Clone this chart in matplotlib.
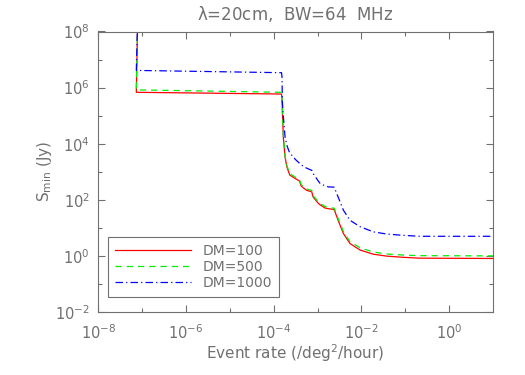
import matplotlib
matplotlib.use("Agg")
import matplotlib.pyplot as plt

# event rate (/deg^2/hour), shared by all three curves
rate = [8.1e-8, 7.4e-8, 1.51e-4, 1.55e-4, 1.58e-4, 1.66e-4, 1.82e-4, 2.0e-4,
        2.19e-4, 2.34e-4, 2.82e-4, 3.09e-4, 3.89e-4, 4.17e-4, 4.37e-4, 5.62e-4,
        7.41e-4, 7.94e-4, 1.05e-3, 1.15e-3, 1.48e-3, 1.78e-3, 2.40e-3, 2.95e-3,
        3.89e-3, 5.50e-3, 9.33e-3, 1.86e-2, 3.80e-2, 9.12e-2, 0.214, 10.0]

# S_min (Jy) for each DM
s_dm100 = [1e9, 6.8e5, 5.9e5, 4.0e5, 1.55e5, 1.74e4, 3.4e3, 1.48e3,
           1.0e3, 760, 630, 575, 468, 331, 295, 219,
           191, 126, 74, 66, 51, 48, 45, 18.6,
           6.3, 2.75, 1.62, 1.15, 0.98, 0.89, 0.83, 0.81]
s_dm500 = [1e9, 8.3e5, 6.8e5, 4.5e5, 1.66e5, 1.9e4, 3.7e3, 1.66e3,
           1.12e3, 850, 710, 645, 525, 372, 331, 245,
           214, 141, 83, 74, 57.5, 53.7, 50, 21.4,
           7.4, 3.24, 1.95, 1.38, 1.17, 1.07, 1.02, 1.0]
s_dm1000 = [1e9, 4.1e6, 3.4e6, 2.5e6, 3.2e5, 1.0e5, 1.74e4, 8.9e3,
            5.9e3, 4.6e3, 3.4e3, 2.8e3, 2.0e3, 1.82e3, 1.7e3, 1.35e3,
            1.12e3, 870, 457, 380, 316, 288, 282, 126,
            42.7, 18.6, 11.0, 7.2, 6.0, 5.4, 5.0, 5.0]

labels = ["DM=100", "DM=500", "DM=1000"]

xmaj = [1e-8, 1e-6, 1e-4, 1e-2, 1e0]
xmaj_lab = [r"$10^{-8}$", r"$10^{-6}$", r"$10^{-4}$", r"$10^{-2}$", r"$10^{0}$"]
xmin = [1e-7, 1e-5, 1e-3, 1e-1]
ymaj = [1e-2, 1e0, 1e2, 1e4, 1e6, 1e8]
ymaj_lab = [r"$10^{-2}$", r"$10^{0}$", r"$10^{2}$", r"$10^{4}$", r"$10^{6}$", r"$10^{8}$"]
ymin = [1e-1, 1e1, 1e3, 1e5, 1e7]

grey = "#707070"
plt.rcParams["mathtext.default"] = "regular"

fig = plt.figure(figsize=(5.25, 3.75), dpi=100)
ax = fig.add_axes([0.187, 0.168, 0.752, 0.748])

ax.plot(rate, s_dm100, color="#ff0000", lw=0.9, ls="-", label=labels[0])
ax.plot(rate, s_dm500, color="#00ee00", lw=0.9, ls=(0, (5, 4)), label=labels[1])
ax.plot(rate, s_dm1000, color="#0000ff", lw=0.9, ls=(0, (6, 2.5, 1, 2.5)), label=labels[2])

ax.set_xscale("log")
ax.set_yscale("log")
ax.set_xlim(1e-8, 10)
ax.set_ylim(1e-2, 1e8)

ax.set_xticks(xmaj)
ax.set_xticklabels(xmaj_lab)
ax.set_xticks(xmin, minor=True)
ax.set_xticklabels([], minor=True)
ax.set_yticks(ymaj)
ax.set_yticklabels(ymaj_lab)
ax.set_yticks(ymin, minor=True)
ax.set_yticklabels([], minor=True)

ax.tick_params(which="both", direction="in", top=True, right=True,
               color=grey, labelcolor=grey, labelsize=10.5)
ax.tick_params(axis="y", pad=6)
ax.tick_params(axis="x", pad=8)
ax.tick_params(which="major", length=5, width=0.8)
ax.tick_params(which="minor", length=3, width=0.8)
for sp in ax.spines.values():
    sp.set_color(grey)
    sp.set_linewidth(0.8)

ax.set_title(r"$\lambda$=20cm,  BW=64  MHz", color=grey, fontsize=12, pad=8)
ax.set_xlabel(r"Event rate (/deg$^2$/hour)", color=grey, fontsize=11, labelpad=0)
ax.set_ylabel(r"S$_{min}$ (Jy)", color=grey, fontsize=11, labelpad=1)

leg = ax.legend(loc="lower left", bbox_to_anchor=(0.025, 0.053), borderaxespad=0,
                fancybox=False, edgecolor=grey, framealpha=1, fontsize=10,
                handlelength=5.5, handletextpad=0.8, labelspacing=0.15,
                borderpad=0.5)
leg.get_frame().set_linewidth(0.8)
for t in leg.get_texts():
    t.set_color(grey)

fig.savefig("out.png", dpi=100)
